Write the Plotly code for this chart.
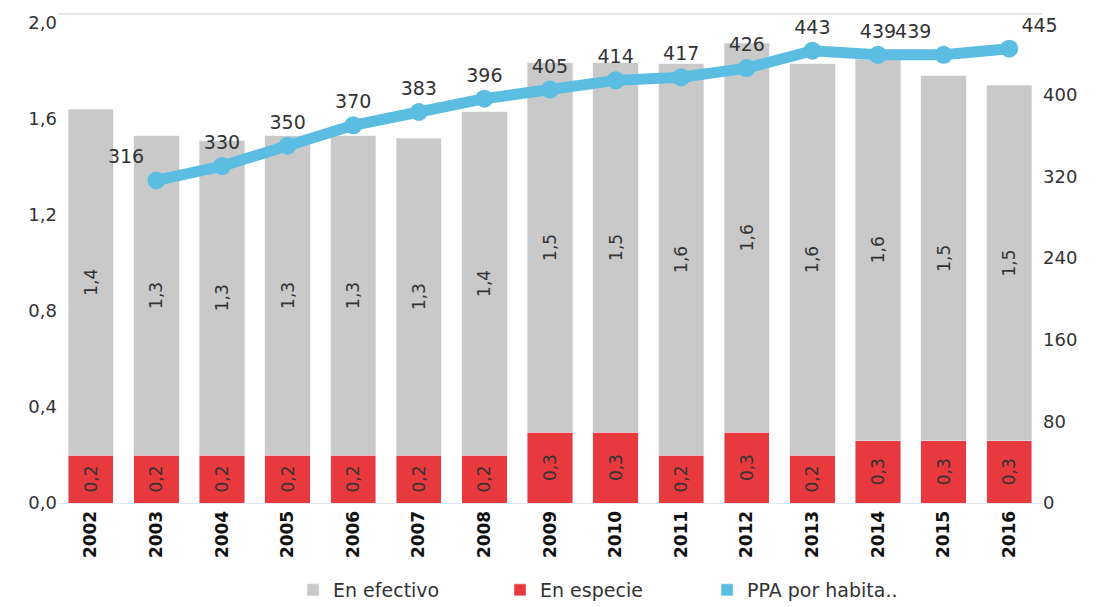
import plotly.graph_objects as go

years = ["2002", "2003", "2004", "2005", "2006", "2007", "2008", "2009",
         "2010", "2011", "2012", "2013", "2014", "2015", "2016"]
en_efectivo = [1.44, 1.33, 1.31, 1.33, 1.33, 1.32, 1.43, 1.54, 1.54, 1.63, 1.62, 1.63, 1.59, 1.52, 1.48]
en_especie = [0.20, 0.20, 0.20, 0.20, 0.20, 0.20, 0.20, 0.295, 0.295, 0.20, 0.295, 0.20, 0.26, 0.26, 0.26]
ppa_por_habitante = [None, 316, 330, 350, 370, 383, 396, 405, 414, 417, 426, 443, 439, 439, 445]
left_ticks = [0.0, 0.4, 0.8, 1.2, 1.6, 2.0]
right_ticks = [0, 80, 160, 240, 320, 400]

FONT = "DejaVu Sans"
TXT = "#333333"
GRAY = "#c9c9c9"
RED = "#e8393f"
BLUE = "#5bbde2"

label_pos = ["top center"] * len(years)
label_pos[1] = "top left"
label_pos[13] = "top left"
label_pos[14] = "top right"

fig = go.Figure()
fig.add_trace(go.Bar(
    x=years, y=en_especie, name="En especie", marker_color=RED,
    texttemplate="%{y:.1f}", textposition="inside", insidetextanchor="middle",
    textangle=-90, textfont=dict(family=FONT, size=17, color=TXT),
    constraintext="none", legendrank=2,
))
fig.add_trace(go.Bar(
    x=years, y=en_efectivo, name="En efectivo", marker_color=GRAY,
    texttemplate="%{y:.1f}", textposition="inside", insidetextanchor="middle",
    textangle=-90, textfont=dict(family=FONT, size=17, color=TXT),
    constraintext="none", legendrank=1,
))
fig.add_trace(go.Scatter(
    x=years, y=ppa_por_habitante, yaxis="y2", mode="lines+markers+text",
    line=dict(color=BLUE, width=11), marker=dict(color=BLUE, size=18),
    texttemplate="%{y:.0f}", textposition=label_pos,
    textfont=dict(family=FONT, size=19, color=TXT),
    showlegend=False, cliponaxis=False, name="PPA por habitante",
))
# legend entry for the line, drawn as a square swatch like the original
fig.add_trace(go.Bar(
    x=[years[0]], y=[None], yaxis="y2", name="PPA por habita..",
    marker_color=BLUE, legendrank=3,
))

# the page body has an 8px default margin, so the figure is sized to fit inside
fig.update_layout(
    width=1090, height=599,
    margin=dict(l=50, r=56, t=6, b=104),
    paper_bgcolor="white", plot_bgcolor="white",
    barmode="stack", bargap=0.31,
    separators=",.",
    font=dict(family=FONT, color=TXT),
    xaxis=dict(
        type="category", range=[-0.5, len(years) - 0.5], automargin=False,
        tickangle=-90, showgrid=False,
        tickfont=dict(family=FONT, size=17, color="#111111", weight="bold"),
        showline=True, linecolor="#dfe6ee", linewidth=1, ticks="",
    ),
    yaxis=dict(
        range=[0, 2.0375], tickvals=left_ticks, tickformat=".1f", automargin=False,
        showgrid=False, zeroline=False, ticks="",
        tickfont=dict(family=FONT, size=18, color=TXT),
    ),
    yaxis2=dict(
        range=[0, 479], tickvals=right_ticks, overlaying="y", side="right",
        automargin=False, showgrid=False, zeroline=False, ticks="",
        tickfont=dict(family=FONT, size=18, color=TXT),
    ),
    legend=dict(
        orientation="h", xref="container", yref="container",
        x=0.2615, y=0.0284, xanchor="left", yanchor="middle",
        traceorder="normal",
        font=dict(family=FONT, size=19, color=TXT),
        entrywidth=162, entrywidthmode="pixels",
    ),
    shapes=[dict(type="line", xref="paper", yref="paper", x0=0, x1=1, y0=1, y1=1,
                 line=dict(color="#e6e6e6", width=2))],
)

fig.write_html("out.html")
